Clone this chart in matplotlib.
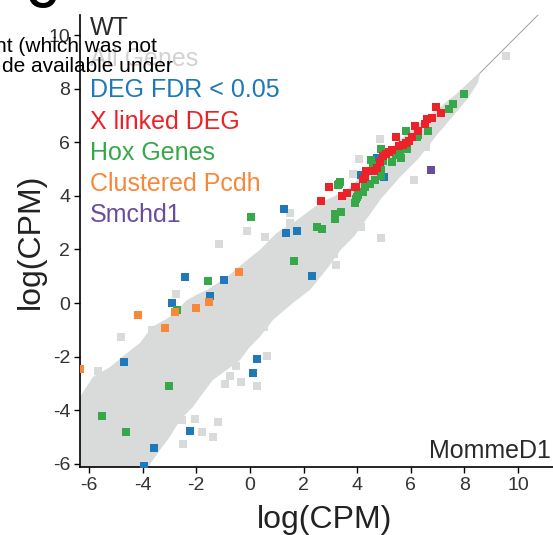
import matplotlib
matplotlib.use("Agg")
import matplotlib.pyplot as plt
import numpy as np

plt.rcParams['font.family'] = ['Liberation Sans', 'DejaVu Sans']
plt.rcParams['axes.unicode_minus'] = False

# gray cloud of all genes: outline (upper and lower edge)
band_upper_x = [-6.6, -6.34, -5.86, -5.22, -4.59, -4.10, -3.66, -2.99, -2.35, -1.87, -1.60, -0.86,
                -0.11, 0.37, 0.99, 1.60, 2.61, 3.62, 4.85, 5.6, 6.7, 7.7, 8.4, 8.6]
band_upper_y = [-3.6, -3.5, -2.76, -2.39, -1.87, -1.49, -0.90, -0.52, 0.11, 0.37, 0.49, 0.97,
                1.60, 1.98, 2.61, 2.98, 3.73, 4.22, 5.4, 6.1, 7.0, 7.8, 8.45, 8.6]
band_lower_x = [-6.6, -3.99, -3.36, -2.99, -2.61, -2.13, -1.75, -1.38, -0.86, -0.37, 0.0, 0.37,
                0.86, 1.6, 2.24, 2.9, 3.4, 3.9, 4.4, 4.9, 5.6, 6.3, 7.0, 7.6, 8.1, 8.5, 8.6]
band_lower_y = [-6.4, -6.4, -5.49, -5.0, -4.37, -3.88, -3.36, -2.87, -2.5, -2.13, -1.64, -1.27,
                -0.63, 0.0, 0.49, 1.3, 2.0, 2.5, 3.2, 3.9, 4.7, 5.4, 6.3, 7.0, 7.6, 8.2, 8.6]

gray_x = [9.55, 4.85, 4.08, 3.86, 6.12, 4.13, 4.89, 6.57, -0.12, -1.15, 1.49, 1.49, 0.56, 3.13, 3.23, 4.07,
          -2.76, -4.81, -3.67, 0.62, 0.27, -0.34, -0.75, -0.93, -1.18, -1.39, -1.80, -2.05, 0.12, 0.52,
          -5.68, -2.49, -3.85, -0.51, -1.06, -2.53]
gray_y = [9.23, 6.11, 5.39, 4.81, 4.61, 2.82, 2.41, 5.83, 2.70, 2.19, 3.35, 3.0, 2.47, 1.83, 1.41, 2.85,
          0.34, -1.26, -1.01, -1.97, -3.10, -2.96, -2.71, -3.02, -4.45, -4.99, -4.83, -4.34, -0.83, -0.88,
          -2.53, -5.27, -5.82, -2.34, -2.38, -4.37]

deg_x = [1.34, 1.77, -2.43, -0.97, -2.89, -1.48, -4.70, 0.26, 0.12, -2.25, -3.57, -3.96, 2.30, 1.28,
         4.75, 5.0, 4.13]
deg_y = [2.61, 2.69, 0.98, 0.86, 0.01, 0.26, -2.20, -2.08, -2.62, -4.76, -5.42, -6.07, 1.0, 3.5,
         5.41, 4.69, 4.79]

xdeg_x = [2.67, 2.94, 3.44, 3.63, 3.91, 6.93, 7.13, 6.59, 6.80, 6.55, 6.17, 6.27, 5.45, 6.04, 5.95,
          5.82, 5.57, 5.32, 5.07, 4.85, 4.75, 4.63, 4.35, 4.29, 4.23, 3.96, 5.2, 5.70, 4.97]
xdeg_y = [3.82, 4.32, 4.0, 4.09, 4.34, 7.30, 7.10, 6.88, 6.90, 6.69, 6.62, 6.43, 6.18, 6.21, 6.06,
          5.98, 5.86, 5.71, 5.56, 5.26, 5.03, 4.94, 4.93, 4.71, 4.62, 4.34, 5.65, 5.90, 5.49]

hox_x = [1.64, -1.55, -2.71, -3.02, -5.51, -4.63, 0.03, 2.51, 2.70, 3.18, 3.41, 3.18, 3.33, 3.92, 3.98,
         7.57, 7.44, 5.82, 6.63, 6.22, 6.29, 5.88, 5.60, 5.47, 5.63, 5.29, 4.97, 4.88, 4.51, 4.58, 4.91,
         4.91, 4.66, 4.48, 4.29, 4.23, 4.04, 3.96, 3.36, 3.30, 8.0]
hox_y = [1.58, 0.81, -0.27, -3.10, -4.22, -4.81, 3.21, 2.84, 2.75, 3.31, 3.38, 3.15, 4.44, 3.72, 3.97,
         7.44, 7.23, 6.41, 6.41, 6.21, 6.28, 5.76, 5.63, 5.51, 5.41, 5.26, 5.31, 5.76, 5.34, 5.15, 4.96,
         4.74, 4.59, 4.44, 4.34, 4.15, 4.03, 3.90, 4.53, 4.40, 7.8]

pcdh_x = [-0.40, -1.54, -2.0, -2.80, -4.19, -3.16, -6.34]
pcdh_y = [1.15, 0.04, -0.19, -0.34, -0.46, -0.93, -2.47]

smchd1_x = [6.75]
smchd1_y = [4.97]

legend_labels = ['WT', 'All Genes', 'DEG FDR < 0.05', 'X linked DEG', 'Hox Genes', 'Clustered Pcdh', 'Smchd1']
ticks = [-6, -4, -2, 0, 2, 4, 6, 8, 10]

c_gray = '#d9dada'
c_blue = '#1f78b8'
c_red = '#ec2229'
c_green = '#36a84a'
c_orange = '#f7883a'
c_purple = '#6a4c9c'
legend_colors = ['#2a2a2a', '#d2d2d2', c_blue, c_red, c_green, c_orange, c_purple]

W, H = 553, 535
fig = plt.figure(figsize=(W / 100, H / 100), dpi=100)
ax = fig.add_axes([80 / W, 1 - 467 / H, 473 / W, 452 / H])

ax.plot([-7, 12], [-7, 12], color='#a8a8a8', lw=0.8, zorder=1)
ax.fill(band_upper_x + band_lower_x[::-1], band_upper_y + band_lower_y[::-1],
        color=c_gray, lw=0, zorder=2)

ms = 32
ax.scatter(gray_x, gray_y, s=ms, marker='s', color=c_gray, linewidths=0, zorder=3)
ax.scatter(deg_x, deg_y, s=ms, marker='s', color=c_blue, linewidths=0, zorder=4)
ax.scatter(hox_x, hox_y, s=ms, marker='s', color=c_green, linewidths=0, zorder=5)
ax.scatter(xdeg_x, xdeg_y, s=ms, marker='s', color=c_red, linewidths=0, zorder=5)
ax.scatter(pcdh_x, pcdh_y, s=ms, marker='s', color=c_orange, linewidths=0, zorder=6)
ax.scatter(smchd1_x, smchd1_y, s=ms, marker='s', color=c_purple, linewidths=0, zorder=6)

ax.set_xlim(-6.34, 11.31)
ax.set_ylim(-6.12, 10.75)
ax.set_xticks(ticks)
ax.set_yticks(ticks)
ax.spines['top'].set_visible(False)
ax.spines['right'].set_visible(False)
for s in ['left', 'bottom']:
    ax.spines[s].set_linewidth(1.2)
ax.tick_params(direction='out', length=4, width=1, labelsize=14, labelcolor='#333333', pad=3)

ax.set_xlabel('log(CPM)', fontsize=23, color='#222222')
ax.set_ylabel('log(CPM)', fontsize=23, color='#222222')
ax.xaxis.set_label_coords((325 - 80) / 473, -(505 - 467) / 452)
ax.yaxis.set_label_coords(-(80 - 46) / 473, 0.5)

# legend written as coloured text lines
for i, (lab, col) in enumerate(zip(legend_labels, legend_colors)):
    fig.text(90 / W, 1 - (35 + 31.2 * i) / H, lab, color=col, fontsize=18, va='baseline')

fig.text(551 / W, 1 - 458 / H, 'MommeD1', color='#2a2a2a', fontsize=18, ha='right', va='baseline')

# leftover text from the cropped page
fig.text(157 / W, 1 - 52 / H, 'nt (which was not', color='black', fontsize=15, ha='right', va='baseline')
fig.text(173 / W, 1 - 72 / H, 'de available under', color='black', fontsize=15, ha='right', va='baseline')
fig.text(26 / W, 1 - 8 / H, 'C', color='black', fontsize=30, fontweight='bold', va='baseline')

fig.savefig('out.png', dpi=100)
plt.close()
